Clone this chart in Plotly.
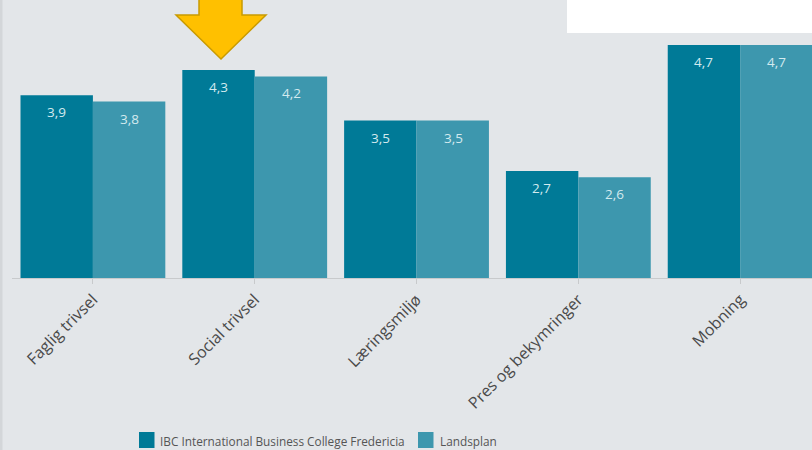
import plotly.graph_objects as go

categories = ["Faglig trivsel", "Social trivsel", "Læringsmiljø", "Pres og bekymringer", "Mobning"]
ibc_values = [3.9, 4.3, 3.5, 2.7, 4.7]
land_values = [3.8, 4.2, 3.5, 2.6, 4.7]
series_names = ["IBC International Business College Fredericia", "Landsplan"]

W, H = 812, 450
L, R, T, B = 12, 0, 0, 172
PW, PH = W - L - R, H - T - B

def px(x):
    return (x - L) / PW

def py(y):
    return (H - B - y) / PH

DARK = "#007a97"
LIGHT = "#3d97ae"
BG = "#e3e6e9"
LABEL = "#d3eaef"
FONT = "Open Sans"

fig = go.Figure()
for name, vals, col in [(series_names[0], ibc_values, DARK), (series_names[1], land_values, LIGHT)]:
    fig.add_trace(go.Bar(
        x=categories, y=vals, name=name, marker=dict(color=col, line=dict(width=0)),
        showlegend=False,
    ))

annotations = []
for vals, shift in [(ibc_values, -36.5), (land_values, 36.5)]:
    for c, v in zip(categories, vals):
        annotations.append(dict(
            x=c, y=v, xref="x", yref="y", text=f"{v:.1f}".replace(".", ","),
            showarrow=False, xshift=shift, yshift=-17, yanchor="middle", xanchor="center",
            font=dict(size=13.5, color=LABEL, family=FONT),
        ))

# legend (drawn manually to match compact layout)
legend_items = [(series_names[0], DARK, 139, 158), (series_names[1], LIGHT, 418, 438)]
shapes = []
for name, col, sx, tx in legend_items:
    shapes.append(dict(type="rect", xref="paper", yref="paper", x0=px(sx), x1=px(sx + 15.5),
                       y0=py(448), y1=py(432), fillcolor=col, line=dict(width=0)))
    annotations.append(dict(xref="paper", yref="paper", x=px(tx), y=py(440.5), text=name,
                            showarrow=False, xanchor="left", yanchor="middle",
                            font=dict(size=11.8, color="#555", family=FONT)))

shapes += [
    # white box top right
    dict(type="rect", xref="paper", yref="paper", x0=px(567), x1=px(815), y0=py(33), y1=py(-5),
         fillcolor="white", line=dict(width=0), layer="above"),
    # left border strip
    dict(type="rect", xref="paper", yref="paper", x0=px(-2), x1=px(2.5), y0=py(452), y1=py(-2),
         fillcolor="#d3d6d9", line=dict(width=0), layer="above"),
    # arrow
    dict(type="path", xref="paper", yref="paper",
         path=(f"M {px(199)},{py(-2)} L {px(242)},{py(-2)} L {px(242)},{py(15)} L {px(266)},{py(15)} "
               f"L {px(221)},{py(59)} L {px(176)},{py(15)} L {px(199)},{py(15)} Z"),
         fillcolor="#ffc000", line=dict(color="#c99a00", width=1.5), layer="above"),
]

fig.update_layout(
    width=W, height=H,
    margin=dict(l=L, r=R, t=T, b=B, pad=0, autoexpand=False),
    paper_bgcolor=BG, plot_bgcolor=BG,
    barmode="group", bargap=0.105, bargroupgap=0,
    showlegend=False,
    xaxis=dict(range=[-0.5, 4.444], showgrid=False, showline=True, linecolor="#c8cacc", linewidth=1,
               ticks="outside", ticklen=5, tickcolor="#c8cacc", tickangle=-45,
               tickfont=dict(size=16, color="#4a4a4a", family=FONT), fixedrange=True,
               automargin=False),
    yaxis=dict(range=[1, 1 + 278 / 63], showgrid=False, showticklabels=False, zeroline=False,
               showline=False, fixedrange=True),
    shapes=shapes,
    annotations=annotations,
    font=dict(family=FONT),
)

fig.write_html("out.html", config={"displayModeBar": False},
               post_script="document.body.style.margin='0';document.body.style.overflow='hidden';")
